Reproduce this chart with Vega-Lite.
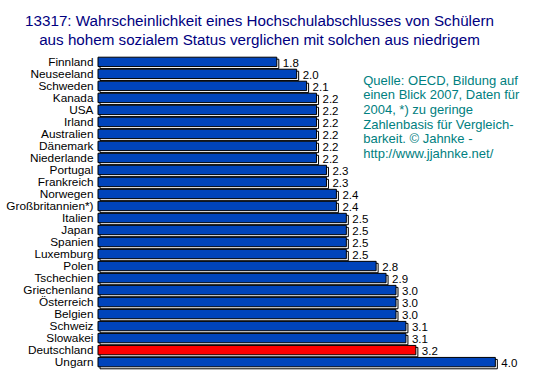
{
  "$schema": "https://vega.github.io/schema/vega-lite/v6.json",
  "autosize": {"type": "none"},
  "width": 447,
  "height": 312,
  "padding": {"left": 98, "top": 56, "right": 8, "bottom": 8},
  "background": "white",
  "config": {"view": {"stroke": null}, "font": "Liberation Sans"},
  "title": {
    "text": ["13317: Wahrscheinlichkeit eines Hochschulabschlusses von Schülern", "aus hohem sozialem Status verglichen mit solchen aus niedrigem"],
    "fontSize": 15.2,
    "fontWeight": "normal",
    "font": "Liberation Sans",
    "color": "#000080",
    "anchor": "middle",
    "dx": -62,
    "offset": 8,
    "lineHeight": 19
  },
  "datasets": {
    "laender": [
      {"Land": "Finnland", "Wert": 1.8, "Gruppe": "andere"},
      {"Land": "Neuseeland", "Wert": 2.0, "Gruppe": "andere"},
      {"Land": "Schweden", "Wert": 2.1, "Gruppe": "andere"},
      {"Land": "Kanada", "Wert": 2.2, "Gruppe": "andere"},
      {"Land": "USA", "Wert": 2.2, "Gruppe": "andere"},
      {"Land": "Irland", "Wert": 2.2, "Gruppe": "andere"},
      {"Land": "Australien", "Wert": 2.2, "Gruppe": "andere"},
      {"Land": "Dänemark", "Wert": 2.2, "Gruppe": "andere"},
      {"Land": "Niederlande", "Wert": 2.2, "Gruppe": "andere"},
      {"Land": "Portugal", "Wert": 2.3, "Gruppe": "andere"},
      {"Land": "Frankreich", "Wert": 2.3, "Gruppe": "andere"},
      {"Land": "Norwegen", "Wert": 2.4, "Gruppe": "andere"},
      {"Land": "Großbritannien*)", "Wert": 2.4, "Gruppe": "andere"},
      {"Land": "Italien", "Wert": 2.5, "Gruppe": "andere"},
      {"Land": "Japan", "Wert": 2.5, "Gruppe": "andere"},
      {"Land": "Spanien", "Wert": 2.5, "Gruppe": "andere"},
      {"Land": "Luxemburg", "Wert": 2.5, "Gruppe": "andere"},
      {"Land": "Polen", "Wert": 2.8, "Gruppe": "andere"},
      {"Land": "Tschechien", "Wert": 2.9, "Gruppe": "andere"},
      {"Land": "Griechenland", "Wert": 3.0, "Gruppe": "andere"},
      {"Land": "Österreich", "Wert": 3.0, "Gruppe": "andere"},
      {"Land": "Belgien", "Wert": 3.0, "Gruppe": "andere"},
      {"Land": "Schweiz", "Wert": 3.1, "Gruppe": "andere"},
      {"Land": "Slowakei", "Wert": 3.1, "Gruppe": "andere"},
      {"Land": "Deutschland", "Wert": 3.2, "Gruppe": "Deutschland"},
      {"Land": "Ungarn", "Wert": 4.0, "Gruppe": "andere"}
    ],
    "notiz": [
      {"Notiz": ["Quelle: OECD, Bildung auf", "einen Blick 2007, Daten für", "2004, *) zu geringe", "Zahlenbasis für Vergleich-", "barkeit. © Jahnke -", "http://www.jjahnke.net/"]}
    ]
  },
  "layer": [
    {
      "data": {"name": "laender"},
      "encoding": {
        "y": {
          "field": "Land",
          "type": "nominal",
          "sort": null,
          "scale": {"paddingInner": 0.22, "paddingOuter": 0.1},
          "axis": {
            "title": null,
            "ticks": false,
            "domain": false,
            "labelPadding": 5,
            "labelFontSize": 11.8,
            "labelColor": "black",
            "labelFont": "Liberation Sans"
          }
        },
        "x": {
          "field": "Wert",
          "type": "quantitative",
          "scale": {"domain": [0, 4.5], "nice": false},
          "axis": null
        }
      },
      "layer": [
        {
          "mark": {"type": "bar", "fill": "white", "stroke": "black", "strokeWidth": 1, "xOffset": 2, "yOffset": 2}
        },
        {
          "mark": {"type": "bar", "stroke": "black", "strokeWidth": 1},
          "encoding": {
            "color": {
              "field": "Gruppe",
              "type": "nominal",
              "scale": {"domain": ["andere", "Deutschland"], "range": ["#0044BB", "#FF0000"]},
              "legend": null
            }
          }
        },
        {
          "mark": {"type": "text", "align": "left", "baseline": "middle", "dx": 6, "dy": 2, "fontSize": 11.5, "color": "black", "font": "Liberation Sans"},
          "encoding": {
            "text": {"field": "Wert", "type": "quantitative", "format": ".1f"}
          }
        }
      ]
    },
    {
      "data": {"name": "notiz"},
      "mark": {
        "type": "text",
        "align": "left",
        "baseline": "alphabetic",
        "fontSize": 13,
        "lineHeight": 14.6,
        "color": "#008080",
        "font": "Liberation Sans",
        "dy": -1
      },
      "encoding": {
        "x": {"datum": 2.67, "type": "quantitative"},
        "y": {"datum": "Schweden", "type": "nominal"},
        "text": {"field": "Notiz"}
      }
    }
  ]
}
